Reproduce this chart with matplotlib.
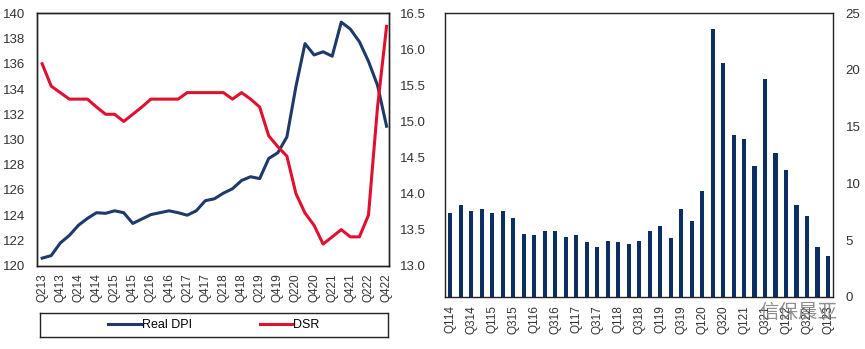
import matplotlib
matplotlib.use("Agg")
import numpy as np
import matplotlib.pyplot as plt

plt.rcParams['font.family'] = ['Liberation Sans', 'Noto Sans CJK SC', 'DejaVu Sans']

# ---- left chart: Real DPI (left axis) and DSR (right axis), Q213..Q422
left_quarters = ["Q213", "Q313", "Q413", "Q114", "Q214", "Q314", "Q414", "Q115",
                 "Q215", "Q315", "Q415", "Q116", "Q216", "Q316", "Q416", "Q117",
                 "Q217", "Q317", "Q417", "Q118", "Q218", "Q318", "Q418", "Q119",
                 "Q219", "Q319", "Q419", "Q120", "Q220", "Q320", "Q420", "Q121",
                 "Q221", "Q321", "Q421", "Q122", "Q222", "Q322", "Q422"]
real_dpi = [120.6, 120.8, 121.8, 122.4, 123.2, 123.75, 124.2, 124.15, 124.35, 124.2,
            123.35, 123.7, 124.05, 124.2, 124.35, 124.2, 124.0, 124.35, 125.15, 125.3,
            125.75, 126.1, 126.75, 127.05, 126.9, 128.5, 128.95, 130.2, 134.2, 137.6,
            136.7, 136.95, 136.6, 139.3, 138.75, 137.75, 136.2, 134.3, 131.05]
dsr = [15.8, 15.49, 15.4, 15.31, 15.31, 15.31, 15.2, 15.1, 15.1, 15.0,
       15.1, 15.2, 15.31, 15.31, 15.31, 15.31, 15.4, 15.4, 15.4, 15.4,
       15.4, 15.31, 15.4, 15.31, 15.2, 14.8, 14.65, 14.52, 14.0, 13.73,
       13.56, 13.3, 13.4, 13.5, 13.4, 13.4, 13.7, 15.2, 16.32]

# ---- right chart: bars Q114..Q123
right_quarters = ["Q114", "Q214", "Q314", "Q414", "Q115", "Q215", "Q315", "Q415",
                  "Q116", "Q216", "Q316", "Q416", "Q117", "Q217", "Q317", "Q417",
                  "Q118", "Q218", "Q318", "Q418", "Q119", "Q219", "Q319", "Q419",
                  "Q120", "Q220", "Q320", "Q420", "Q121", "Q221", "Q321", "Q421",
                  "Q122", "Q222", "Q322", "Q422", "Q123"]
bar_values = [7.4, 8.1, 7.6, 7.75, 7.4, 7.6, 6.95, 5.55, 5.4, 5.8, 5.8, 5.3,
              5.4, 4.8, 4.4, 4.9, 4.8, 4.65, 4.9, 5.8, 6.2, 5.15, 7.75, 6.7,
              9.3, 23.6, 20.65, 14.3, 13.9, 11.5, 19.2, 12.7, 11.2, 8.1, 7.1,
              4.4, 3.6]

BLUE = "#1d3a6b"
RED = "#e0102f"
BAR = "#0c2f63"

W, H = 865, 349
fig = plt.figure(figsize=(W / 100, H / 100), dpi=100)


def box(x0, y0, x1, y1):
    return [x0 / W, 1 - y1 / H, (x1 - x0) / W, (y1 - y0) / H]


# left chart
ax = fig.add_axes(box(36.7, 13.3, 389.3, 265.7))
x = np.arange(len(left_quarters))
l1, = ax.plot(x, real_dpi, color=BLUE, lw=2.2, label="Real DPI")
ax.set_ylim(120, 140)
ax.set_yticks(np.arange(120, 141, 2))
ax.set_xlim(-0.6, len(left_quarters) - 0.7)
ax.set_xticks(x[::2])
ax.set_xticklabels(left_quarters[::2], rotation=90, fontsize=8.5, color="#333333")
ax.tick_params(axis="y", length=0, pad=8, labelsize=9.5, labelcolor="#333333")
ax.tick_params(axis="x", length=0, pad=5.5)

ax2 = ax.twinx()
l2, = ax2.plot(x, dsr, color=RED, lw=2.2, label="DSR")
ax2.set_ylim(13.0, 16.5)
ax2.set_yticks(np.arange(13.0, 16.51, 0.5))
ax2.set_yticklabels(["%.1f" % v for v in np.arange(13.0, 16.51, 0.5)])
ax2.tick_params(axis="y", length=0, pad=8, labelsize=9.5, labelcolor="#333333")
for a in (ax, ax2):
    for s in a.spines.values():
        s.set_linewidth(1.0)
        s.set_color("#222222")

# legend frame spans the chart width, entries centred inside it
lax = fig.add_axes(box(40, 313, 388, 337))
lax.set_xticks([])
lax.set_yticks([])
for s in lax.spines.values():
    s.set_linewidth(1.0)
    s.set_color("#222222")
lax.legend(handles=[l1, l2], loc="center", ncol=2, fontsize=9,
           handlelength=2.6, handletextpad=0.1, columnspacing=5.4,
           frameon=False, borderaxespad=0)

# right chart
bx = fig.add_axes(box(445, 13.3, 833.3, 296.7))
xb = np.arange(len(right_quarters))
bx.bar(xb, bar_values, width=0.4, color=BAR)
bx.set_ylim(0, 25)
bx.set_xlim(-0.5, len(right_quarters) - 0.5)
bx.yaxis.tick_right()
bx.set_yticks(np.arange(0, 26, 5))
bx.set_xticks(xb[::2])
bx.set_xticklabels(right_quarters[::2], rotation=90, fontsize=8.5, color="#333333")
bx.tick_params(axis="y", length=0, pad=9, labelsize=9.5, labelcolor="#333333")
bx.tick_params(axis="x", length=0, pad=6)
for s in bx.spines.values():
    s.set_linewidth(1.0)
    s.set_color("#222222")

# watermark
fig.text(837 / W, 1 - 312 / H, "信保晨亚", fontsize=14, color="#7a7a7a",
         alpha=0.85, ha="right", va="center", family=["Noto Sans CJK SC"])

fig.savefig("out.png", dpi=100)
